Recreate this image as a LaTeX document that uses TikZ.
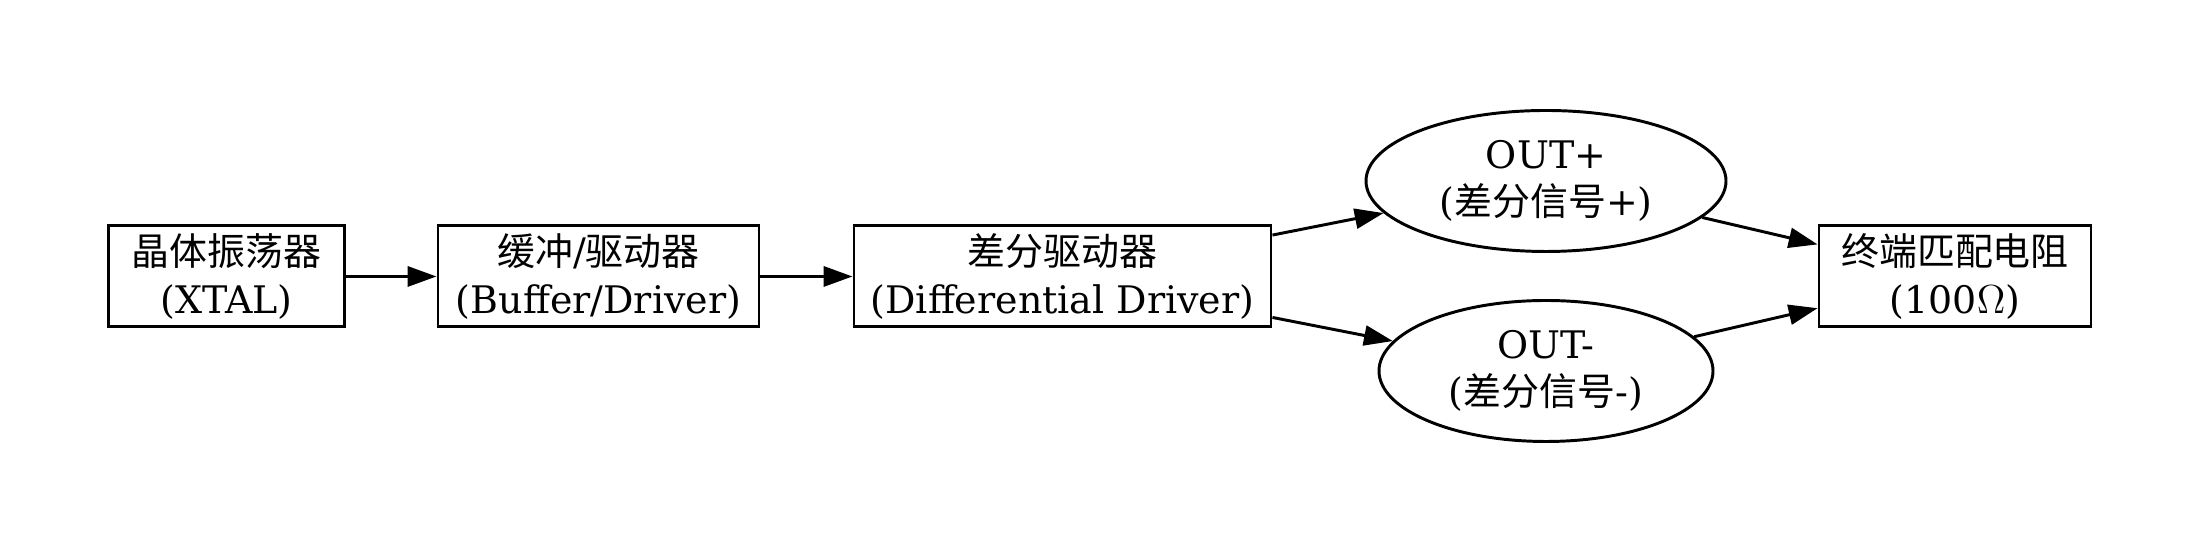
\documentclass[tikz,border=0pt]{standalone}
\usepackage{fontspec}
\setmainfont{DejaVu Serif}
\newfontfamily\cjk{Noto Sans CJK SC}
\usetikzlibrary{shapes.geometric,arrows.meta}

\begin{document}
\begin{tikzpicture}[
  every node/.style={font=\fontsize{13.5}{16.8}\selectfont, align=center, inner sep=0pt},
  blockbox/.style={draw, line width=1.05pt, minimum height=1.2625cm},
  sigellipse/.style={draw, ellipse, line width=1.05pt, minimum height=1.7625cm},
  >={Triangle[length=3.6mm, width=2.5mm]}
]
\useasboundingbox (0,0) rectangle (27.5,-6.9125);

\node[blockbox, minimum width=2.94cm] at (2.831,-3.456) (xtal) {{\cjk 晶体振荡器}\\(XTAL)};
\node[blockbox, minimum width=4.0125cm] at (7.481,-3.456) (buf) {{\cjk 缓冲}/{\cjk 驱动器}\\(Buffer/Driver)};
\node[blockbox, minimum width=5.2125cm] at (13.281,-3.456) (diff) {{\cjk 差分驱动器}\\(Differential Driver)};
\node[sigellipse, minimum width=4.5cm] at (19.325,-2.2625) (outp) {OUT+\\({\cjk 差分信号}+)};
\node[sigellipse, minimum width=4.175cm] at (19.325,-4.6375) (outn) {OUT-\\({\cjk 差分信号}-)};
\node[blockbox, minimum width=3.4cm] at (24.4375,-3.456) (term) {{\cjk 终端匹配电阻}\\(100$\Omega$)};

\draw[->, line width=1.05pt] (xtal) -- (buf);
\draw[->, line width=1.05pt] (buf) -- (diff);
\draw[->, line width=1.05pt] (diff) -- (outp);
\draw[->, line width=1.05pt] (diff) -- (outn);
\draw[->, line width=1.05pt] (outp) -- (term);
\draw[->, line width=1.05pt] (outn) -- (term);
\end{tikzpicture}
\end{document}
